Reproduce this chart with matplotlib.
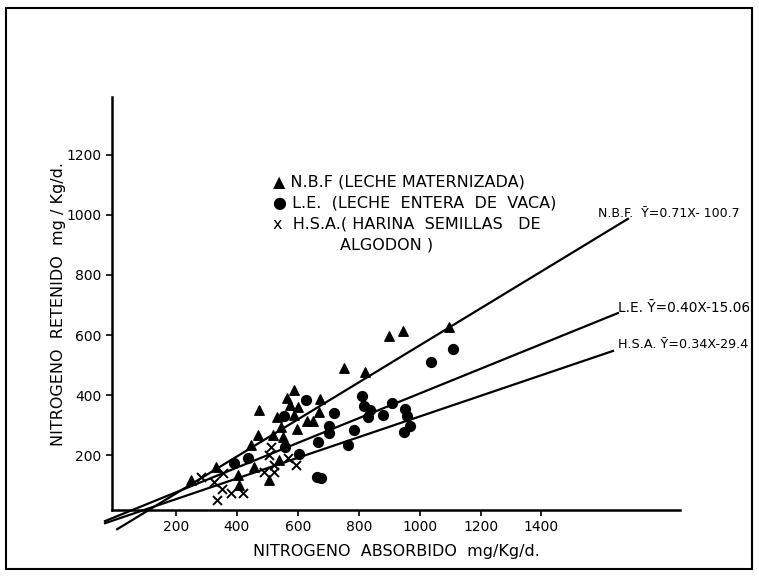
import numpy as np
import matplotlib
matplotlib.use("Agg")
import matplotlib.pyplot as plt
from matplotlib.patches import Rectangle

# N.B.F. (leche maternizada) - triangles
nbf_x = [249, 331, 403, 407, 446, 456, 469, 472, 505, 518, 531, 538, 544, 551,
         564, 575, 587, 587, 597, 600, 630, 649, 669, 672, 751, 820, 898, 944, 1098]
nbf_y = [117, 160, 133, 100, 233, 160, 267, 350, 117, 267, 327, 183, 293, 260,
         390, 367, 417, 333, 287, 360, 313, 313, 343, 387, 490, 477, 597, 613, 627]

# L.E. (leche entera de vaca) - circles
le_x = [390, 436, 554, 557, 603, 626, 666, 662, 675, 702, 702, 718, 764, 784,
        810, 816, 836, 830, 879, 911, 951, 957, 970, 948, 1036, 1111]
le_y = [173, 190, 330, 227, 203, 383, 243, 127, 125, 297, 273, 340, 233, 283,
        397, 363, 350, 327, 333, 373, 353, 330, 297, 277, 510, 553]

# H.S.A. (harina semillas de algodon) - crosses
hsa_x = [282, 325, 334, 351, 354, 380, 420, 489, 505, 511, 521, 521, 567, 593]
hsa_y = [127, 110, 50, 87, 140, 73, 73, 143, 200, 227, 167, 143, 190, 167]

# regression lines, end points
nbf_line_x = [7, 1684]
nbf_line_y = [-47, 987]
le_line_x = [-33, 1651]
le_line_y = [-20, 673]
hsa_line_x = [-33, 1635]
hsa_line_y = [-27, 547]

xticks = [200, 400, 600, 800, 1000, 1200, 1400]
yticks = [200, 400, 600, 800, 1000, 1200]

plt.rcParams['font.family'] = 'DejaVu Sans'

fig = plt.figure(figsize=(7.59, 5.76), dpi=100)
ax = fig.add_axes([112 / 759, 1 - 510 / 576, 568 / 759, 413 / 576])

ax.plot(nbf_line_x, nbf_line_y, 'k-', lw=1.6, clip_on=False)
ax.plot(le_line_x, le_line_y, 'k-', lw=1.6, clip_on=False)
ax.plot(hsa_line_x, hsa_line_y, 'k-', lw=1.6, clip_on=False)

ax.scatter(nbf_x, nbf_y, marker='^', s=46, c='k', zorder=3)
ax.scatter(le_x, le_y, marker='o', s=50, c='k', zorder=3)
ax.scatter(hsa_x, hsa_y, marker='x', s=42, c='k', linewidths=1.4, zorder=3)

ax.set_xlim(-10, 1855)
ax.set_ylim(17, 1393)
ax.set_xticks(xticks)
ax.set_yticks(yticks)
ax.tick_params(direction='out', length=4, width=1.2, labelsize=10)
for s in ['top', 'right']:
    ax.spines[s].set_visible(False)
for s in ['left', 'bottom']:
    ax.spines[s].set_linewidth(1.8)

ax.set_xlabel('NITROGENO  ABSORBIDO  mg/Kg/d.', fontsize=11.5, labelpad=7)
ax.set_ylabel('NITROGENO  RETENIDO  mg / Kg/d.', fontsize=11.5, labelpad=0)

# legend block
fig.text(273 / 759, 1 - 182 / 576, '\u25B2 N.B.F (LECHE MATERNIZADA)', fontsize=11.5, va='center')
fig.text(273 / 759, 1 - 203 / 576, '\u25CF L.E.  (LECHE  ENTERA  DE  VACA)', fontsize=11.5, va='center')
fig.text(273 / 759, 1 - 224 / 576, 'x  H.S.A.( HARINA  SEMILLAS   DE', fontsize=11.5, va='center')
fig.text(340 / 759, 1 - 245 / 576, 'ALGODON )', fontsize=11.5, va='center')

# equations
fig.text(598 / 759, 1 - 213 / 576, 'N.B.F.  \u0232=0.71X- 100.7', fontsize=9, va='center')
fig.text(618 / 759, 1 - 308 / 576, 'L.E. \u0232=0.40X-15.06', fontsize=9.8, va='center')
fig.text(618 / 759, 1 - 345 / 576, 'H.S.A. \u0232=0.34X-29.4', fontsize=9.2, va='center')

fig.add_artist(Rectangle((6 / 759, 1 - 569 / 576), 746 / 759, 561 / 576,
                         transform=fig.transFigure, fill=False, ec='k', lw=1.5))

fig.savefig('out.png', dpi=100)
